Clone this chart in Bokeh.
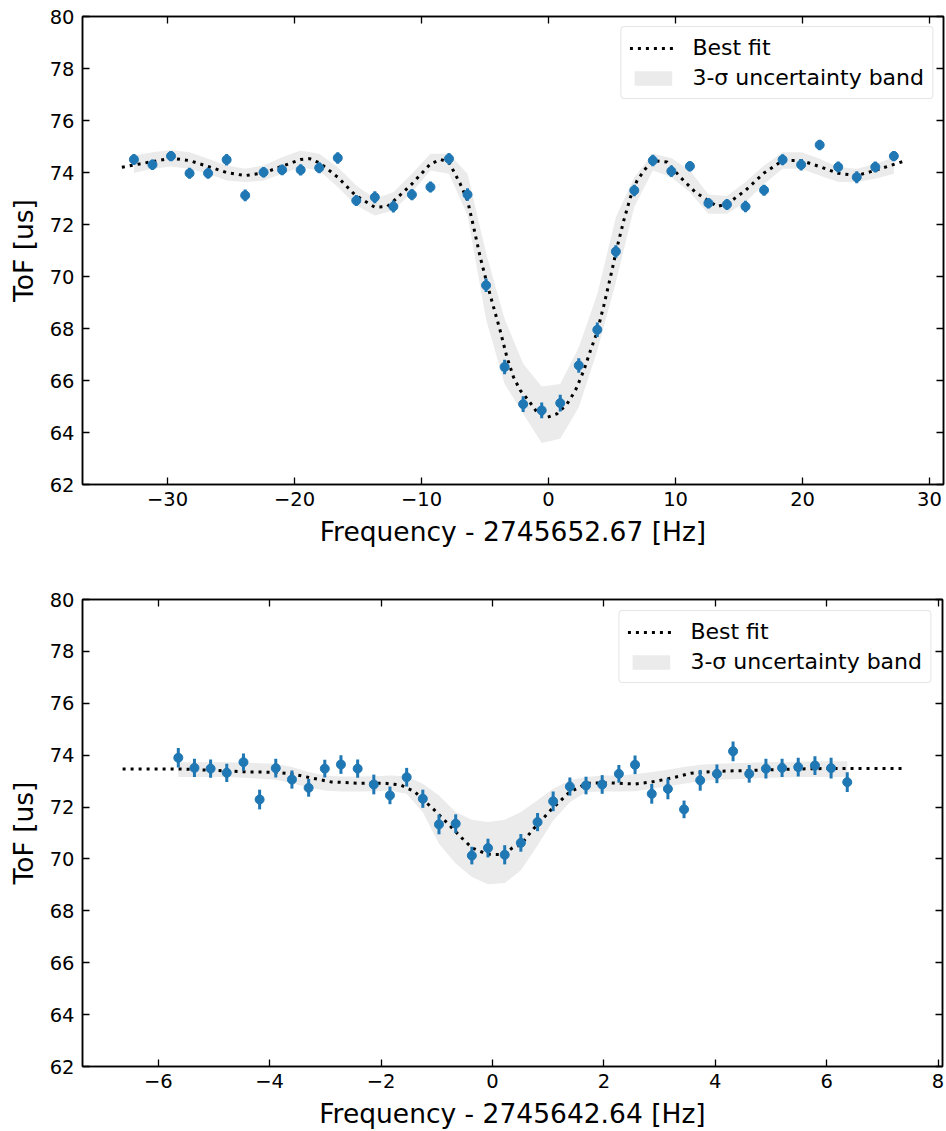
from bokeh.plotting import figure
from bokeh.layouts import column
from bokeh.models import (Range1d, LinearAxis, FixedTicker, Legend, LegendItem,
                          ColumnDataSource, CustomJSTickFormatter, CustomLabelingPolicy)
from bokeh.embed import file_html
from bokeh.resources import INLINE

# ---------------- data: top panel ----------------
top_x = [-32.65, -31.19, -29.73, -28.27, -26.81, -25.35, -23.89, -22.44, -20.98, -19.52,
         -18.06, -16.60, -15.14, -13.68, -12.22, -10.76, -9.30, -7.84, -6.38, -4.92,
         -3.46, -2.00, -0.54, 0.92, 2.38, 3.84, 5.30, 6.75, 8.21, 9.67,
         11.13, 12.59, 14.05, 15.51, 16.97, 18.43, 19.89, 21.35, 22.81, 24.27,
         25.73, 27.19]
top_y = [74.50, 74.30, 74.63, 73.97, 73.97, 74.49, 73.12, 74.01, 74.10, 74.10,
         74.18, 74.56, 72.92, 73.05, 72.69, 73.15, 73.44, 74.53, 73.15, 69.66,
         66.52, 65.09, 64.85, 65.13, 66.58, 67.95, 70.96, 73.31, 74.46, 74.05,
         74.24, 72.82, 72.77, 72.69, 73.32, 74.49, 74.30, 75.06, 74.21, 73.82,
         74.21, 74.63]
top_err = [0.21, 0.20, 0.20, 0.21, 0.21, 0.22, 0.23, 0.20, 0.21, 0.22,
           0.21, 0.22, 0.21, 0.23, 0.23, 0.22, 0.21, 0.22, 0.24, 0.26,
           0.28, 0.30, 0.30, 0.32, 0.28, 0.28, 0.24, 0.22, 0.22, 0.22,
           0.20, 0.20, 0.21, 0.22, 0.21, 0.21, 0.22, 0.20, 0.21, 0.23,
           0.21, 0.20]
top_band_lo = [73.98, 74.14, 74.23, 74.14, 73.95, 73.69, 73.63, 73.69, 73.95, 74.20,
               74.08, 73.44, 72.73, 72.35, 72.54, 73.24, 74.08, 73.95, 72.35, 68.35,
               65.87, 64.72, 63.60, 63.76, 64.97, 67.15, 69.78, 72.67, 74.08, 73.82,
               73.24, 72.41, 72.41, 72.86, 73.56, 74.14, 74.14, 73.88, 73.63, 73.63,
               73.76, 73.95]
top_band_hi = [74.64, 74.78, 74.87, 74.78, 74.53, 74.27, 74.14, 74.27, 74.59, 74.85,
               74.72, 74.20, 73.50, 72.99, 73.24, 73.95, 74.72, 74.72, 73.95, 70.90,
               68.37, 66.64, 65.77, 65.87, 67.28, 69.33, 72.28, 73.82, 74.72, 74.56,
               74.08, 73.15, 73.10, 73.63, 74.27, 74.78, 74.78, 74.53, 74.20, 74.14,
               74.33, 74.59]
top_fit_x = [-33.6, -32.2, -29.7, -28.3, -26.8, -25.3, -23.9, -22.4, -21.0, -19.5,
             -18.8, -18.0, -16.6, -15.2, -13.7, -12.7, -12.2, -10.8, -9.3, -8.5,
             -7.85, -6.96, -6.38, -5.9, -5.38, -4.91, -4.33, -3.81, -3.28, -2.76,
             -2.23, -1.57, -0.91, -0.07, 0.67, 1.46, 2.12, 2.77, 3.30, 3.82,
             4.35, 4.87, 5.40, 5.92, 6.45, 6.97, 7.63, 8.23, 9.33, 10.38,
             11.56, 12.58, 13.27, 14.06, 15.50, 16.94, 18.42, 19.89, 21.33, 22.81,
             24.25, 25.72, 27.19, 28.03]
top_fit_y = [74.20, 74.33, 74.55, 74.46, 74.23, 73.99, 73.88, 73.99, 74.24, 74.50,
             74.53, 74.36, 73.82, 73.12, 72.67, 72.69, 72.90, 73.54, 74.33, 74.50,
             74.40, 73.57, 72.92, 71.90, 70.74, 69.85, 68.82, 67.92, 66.90, 66.13,
             65.62, 65.23, 64.78, 64.59, 64.72, 65.10, 65.62, 66.38, 67.15, 67.86,
             68.88, 69.97, 71.13, 72.15, 73.05, 73.69, 74.14, 74.46, 74.40, 73.82,
             73.24, 72.92, 72.69, 72.79, 73.31, 73.97, 74.46, 74.46, 74.23, 73.97,
             73.88, 74.08, 74.31, 74.44]

# ---------------- data: bottom panel ----------------
bot_x = [-5.64, -5.35, -5.06, -4.77, -4.47, -4.18, -3.89, -3.60, -3.30, -3.01,
         -2.72, -2.42, -2.13, -1.84, -1.54, -1.25, -0.96, -0.66, -0.37, -0.08,
         0.22, 0.51, 0.81, 1.09, 1.39, 1.68, 1.97, 2.27, 2.56, 2.86,
         3.15, 3.44, 3.73, 4.03, 4.32, 4.61, 4.91, 5.20, 5.49, 5.79,
         6.08, 6.37]
bot_y = [73.90, 73.51, 73.48, 73.32, 73.73, 72.29, 73.50, 73.06, 72.74, 73.48,
         73.64, 73.48, 72.87, 72.45, 73.15, 72.32, 71.33, 71.36, 70.13, 70.42,
         70.16, 70.62, 71.42, 72.22, 72.79, 72.83, 72.87, 73.28, 73.63, 72.51,
         72.70, 71.91, 73.03, 73.28, 74.15, 73.28, 73.48, 73.51, 73.54, 73.60,
         73.50, 72.96]
bot_err = [0.38, 0.35, 0.35, 0.35, 0.33, 0.38, 0.36, 0.35, 0.34, 0.34,
           0.36, 0.35, 0.38, 0.34, 0.36, 0.35, 0.38, 0.36, 0.34, 0.36,
           0.37, 0.34, 0.35, 0.38, 0.35, 0.34, 0.36, 0.34, 0.36, 0.38,
           0.40, 0.34, 0.40, 0.36, 0.38, 0.34, 0.38, 0.35, 0.36, 0.36,
           0.40, 0.38]
bot_band_lo = [73.16, 73.16, 73.16, 73.16, 73.13, 73.09, 73.05, 72.92, 72.75, 72.64,
               72.60, 72.60, 72.61, 72.64, 72.51, 71.80, 70.59, 69.82, 69.30, 69.02,
               69.07, 69.56, 70.52, 71.48, 72.19, 72.58, 72.60, 72.60, 72.61, 72.71,
               72.80, 72.90, 73.00, 73.05, 73.07, 73.10, 73.13, 73.14, 73.16, 73.16,
               73.16, 73.16]
bot_band_hi = [73.73, 73.73, 73.73, 73.73, 73.71, 73.69, 73.67, 73.54, 73.35, 73.22,
               73.18, 73.18, 73.19, 73.22, 73.19, 72.90, 72.45, 71.81, 71.51, 71.42,
               71.51, 71.81, 72.26, 72.71, 73.03, 73.16, 73.22, 73.22, 73.26, 73.35,
               73.44, 73.54, 73.63, 73.67, 73.69, 73.71, 73.73, 73.74, 73.75, 73.77,
               73.77, 73.77]
bot_fit_x = [-6.64, -5.64, -5.06, -4.47, -3.89, -3.60, -3.25, -2.90, -2.42, -1.94,
             -1.65, -1.40, -1.05, -0.75, -0.51, -0.36, -0.09, 0.20, 0.36, 0.51,
             0.72, 1.05, 1.38, 1.70, 2.13, 2.56, 2.84, 3.20, 3.56, 4.04,
             4.61, 5.53, 6.13, 7.38]
bot_fit_y = [73.47, 73.47, 73.42, 73.36, 73.34, 73.28, 73.12, 72.97, 72.92, 72.92,
             72.85, 72.60, 71.90, 71.25, 70.72, 70.42, 70.18, 70.17, 70.43, 70.55,
             71.12, 71.89, 72.57, 72.92, 72.93, 72.89, 72.96, 73.11, 73.30, 73.38,
             73.41, 73.47, 73.49, 73.49]

# ---------------- axes / labels ----------------
y_ticks = [62, 64, 66, 68, 70, 72, 74, 76, 78, 80]
top_x_ticks = [-30, -20, -10, 0, 10, 20, 30]
bot_x_ticks = [-6, -4, -2, 0, 2, 4, 6, 8]
top_xlabel = "Frequency - 2745652.67 [Hz]"
bot_xlabel = "Frequency - 2745642.64 [Hz]"
ylabel = "ToF [us]"
fit_label = "Best fit"
band_label = "3-σ uncertainty band"

FONT = "DejaVu Sans"
BLUE = "#1f77b4"
BAND = "#ebebeb"

minus_fmt = "return tick < 0 ? '\\u2212' + (-tick) : '' + tick;"
no_labels = "for (const i of indices) { indices.unset(i) }\nreturn indices"


def style_axis(ax, show_labels):
    ax.major_tick_in = 7
    ax.major_tick_out = 0
    ax.minor_tick_line_color = None
    ax.minor_tick_in = 0
    ax.minor_tick_out = 0
    ax.axis_line_color = "black"
    ax.axis_line_width = 1.5
    ax.major_tick_line_color = "black"
    ax.major_tick_line_width = 1.3
    if show_labels:
        ax.major_label_text_font = FONT
        ax.major_label_text_font_size = "19.5px"
        ax.major_label_text_color = "black"
        ax.axis_label_text_font = FONT
        ax.axis_label_text_font_size = "26.5px"
        ax.axis_label_text_font_style = "normal"
        ax.axis_label_text_color = "black"
        ax.formatter = CustomJSTickFormatter(code=minus_fmt)
    else:
        ax.major_label_policy = CustomLabelingPolicy(code=no_labels)
        ax.major_label_standoff = 0
        ax.axis_label = None


def make_panel(xs, ys, errs, blo, bhi, fx, fy, xr, xticks, xlabel,
               fw, fh, top_b, bot_b, legend_margin):
    p = figure(frame_width=fw, frame_height=fh,
               x_range=Range1d(*xr), y_range=Range1d(62, 80),
               output_backend="svg", toolbar_location=None,
               min_border_left=82, min_border_right=3,
               min_border_top=top_b, min_border_bottom=bot_b,
               background_fill_color="white", border_fill_color="white")
    p.grid.visible = False
    p.outline_line_color = "black"
    p.outline_line_width = 1.5

    pts = ColumnDataSource(dict(x=xs, y=ys,
                                lo=[a - b for a, b in zip(ys, errs)],
                                hi=[a + b for a, b in zip(ys, errs)]))
    band = ColumnDataSource(dict(x=xs, lo=blo, hi=bhi))
    fit = ColumnDataSource(dict(x=fx, y=fy))

    band_r = p.varea(x="x", y1="lo", y2="hi", source=band, fill_color=BAND)
    fit_r = p.line(x="x", y="y", source=fit, line_color="black",
                   line_width=3, line_dash="3 5")
    p.segment(x0="x", y0="lo", x1="x", y1="hi", source=pts,
              line_color=BLUE, line_width=3)
    p.scatter(x="x", y="y", source=pts, size=9, fill_color=BLUE,
              line_color=BLUE)

    p.xaxis.ticker = FixedTicker(ticks=xticks)
    p.yaxis.ticker = FixedTicker(ticks=y_ticks)
    p.xaxis.axis_label = xlabel
    p.yaxis.axis_label = ylabel
    for ax in p.xaxis:
        style_axis(ax, True)
        ax.major_label_standoff = 7
        ax.axis_label_standoff = 7
    for ax in p.yaxis:
        style_axis(ax, True)
        ax.major_label_standoff = 8
        ax.axis_label_standoff = 8

    top_ax = LinearAxis(ticker=FixedTicker(ticks=xticks))
    right_ax = LinearAxis(ticker=FixedTicker(ticks=y_ticks))
    style_axis(top_ax, False)
    style_axis(right_ax, False)
    p.add_layout(top_ax, "above")
    p.add_layout(right_ax, "right")

    legend = Legend(items=[LegendItem(label=fit_label, renderers=[fit_r]),
                           LegendItem(label=band_label, renderers=[band_r])],
                    location="top_right")
    legend.label_text_font = FONT
    legend.label_text_font_size = "22px"
    legend.label_text_color = "black"
    legend.glyph_width = 47
    legend.glyph_height = 18
    legend.label_standoff = 16
    legend.padding = 8
    legend.spacing = 5
    legend.margin = legend_margin
    legend.border_line_color = "#cccccc"
    legend.border_line_width = 1
    legend.border_radius = 4
    legend.background_fill_alpha = 0.8
    p.add_layout(legend)
    return p


p1 = make_panel(top_x, top_y, top_err, top_band_lo, top_band_hi,
                top_fit_x, top_fit_y, (-36.7, 31.1), top_x_ticks, top_xlabel,
                861, 468, 16, 76, 10)
p2 = make_panel(bot_x, bot_y, bot_err, bot_band_lo, bot_band_hi,
                bot_fit_x, bot_fit_y, (-7.36, 8.08), bot_x_ticks, bot_xlabel,
                860, 467, 39, 65, 11)

layout = column(p1, p2, spacing=0)
open("out.html", "w").write(file_html(layout, INLINE))
